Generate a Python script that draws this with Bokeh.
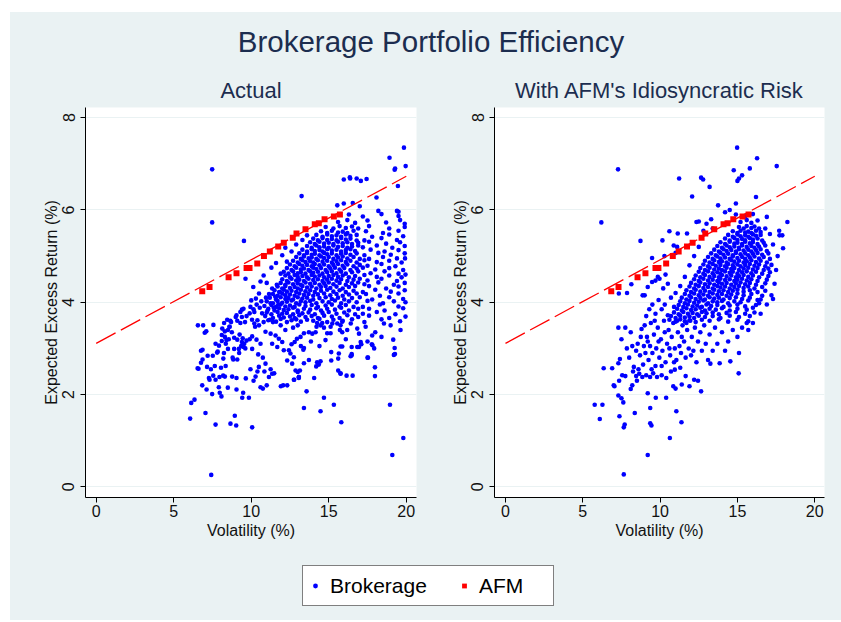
from bokeh.plotting import figure
from bokeh.models import Range1d, FixedTicker, Legend, LegendItem, Spacer
from bokeh.layouts import column, row
from bokeh.embed import file_html
from bokeh.resources import INLINE
from bokeh.core.properties import value

# ---------------- data ----------------
title_text = "Brokerage Portfolio Efficiency"
panel_titles = ["Actual", "With AFM's Idiosyncratic Risk"]
x_label = "Volatility (%)"
y_label = "Expected Excess Return (%)"
x_ticks = [0, 5, 10, 15, 20]
y_ticks = [0, 2, 4, 6, 8]
legend_labels = ["Brokerage", "AFM"]

# AFM portfolios (same in both panels)
afm_vol = [6.84, 7.31, 8.54, 9.05, 9.70, 9.89, 10.39, 10.82, 11.20, 11.74,
           12.10, 12.68, 12.92, 13.50, 14.10, 14.36, 14.73, 15.33, 15.72]
afm_ret = [4.24, 4.33, 4.54, 4.63, 4.74, 4.74, 4.84, 5.00, 5.10, 5.21,
           5.29, 5.40, 5.49, 5.58, 5.69, 5.71, 5.80, 5.86, 5.90]

# efficient frontier line (dashed)
frontier_vol = [0, 20]
frontier_ret = [3.11, 6.73]

# Brokerage accounts, "Actual" panel: (volatility, expected excess return)
actual_outliers = [
    (7.48,6.88),(7.48,5.73),(9.53,5.33),(13.25,6.30),(7.42,0.26),(19.10,0.69),(19.81,1.06),(18.95,1.78),
    (15.33,1.78),(15.81,1.40),(14.47,1.64),(14.69,1.93),(13.40,1.71),(13.57,2.07),(14.06,2.36),(19.85,7.35),
    (18.92,7.13),(19.25,6.87),(19.28,6.90),(19.96,6.95),(15.97,6.66),(16.36,6.71),(16.38,6.68),(16.80,6.68),
    (17.07,6.63),(17.44,6.67),(19.46,6.52),(18.08,6.27),(15.55,6.10),(15.97,6.14),(16.55,6.15),(17.00,6.08),
    (18.20,5.98),(19.40,5.98),(19.50,5.96),(17.98,2.40),(17.98,2.59),(16.15,2.41),(16.54,2.41),(16.41,2.83),
    (17.53,2.80),(15.76,2.46),(19.20,2.86),(19.25,3.01),(19.16,3.19),
]
actual_lower = [
    (6.06,1.48),(7.05,1.60),(7.70,1.35),(8.66,1.37),(9.03,1.33),(8.94,1.54),(10.06,1.29),(6.13,1.82),
    (6.34,1.89),(9.42,1.93),(9.85,1.93),(7.48,2.01),(8.08,1.96),(7.97,2.04),(6.84,2.20),(7.12,2.11),
    (7.91,2.16),(8.49,2.15),(9.05,2.11),(9.48,2.04),(10.60,2.16),(10.75,2.13),(7.31,2.32),(7.27,2.36),
    (7.55,2.41),(7.70,2.32),(7.95,2.38),(8.19,2.41),(8.30,2.39),(8.77,2.39),(9.05,2.36),(10.28,2.39),
    (11.14,2.38),(11.35,2.45),(11.48,2.46),(11.91,2.18),(12.06,2.20),(12.32,2.20),(12.77,2.32),(13.07,2.38),
    (7.15,2.60),(7.40,2.55),(7.65,2.62),(8.05,2.58),(8.35,2.62),(9.65,2.35),(9.95,2.55),(10.15,2.30),
    (10.40,2.50),(10.85,2.50),(11.00,2.20),(11.25,2.55),(12.75,2.32),(13.07,2.36),(13.14,2.52),(13.00,2.49),
    (15.61,2.52),(15.76,2.45),(15.16,2.74),(15.61,2.78),(14.25,2.70),(14.47,2.72),(14.36,2.65),(14.19,2.61),
    (13.40,2.68),(12.53,2.89),(12.75,2.81),(13.36,2.97),(13.40,3.01),(13.72,2.75),(15.16,2.92),(15.65,2.89),
    (15.76,3.04),(15.87,3.04),(16.48,2.85),(17.06,3.14),(17.10,3.09),(16.84,3.03),(16.95,3.03),(17.78,3.09),
    (17.93,3.00),(17.82,3.07),(17.50,2.80),(19.27,2.88),(16.48,3.03),(16.48,2.88),
]
actual_middle = [
    (6.54,2.57),(6.60,2.56),(6.76,2.69),(6.86,2.76),(6.76,2.95),(6.86,2.97),(7.19,2.84),(7.52,2.84),
    (7.00,3.34),(7.10,3.37),(6.56,3.50),(6.90,3.50),(7.56,3.51),(7.70,3.10),(7.92,3.06),(7.80,2.91),
    (7.84,2.93),(8.13,3.43),(8.30,3.37),(8.50,3.40),(8.60,3.47),(8.20,2.78),(8.24,2.90),(8.36,3.10),
    (8.50,2.99),(8.80,2.80),(8.84,2.76),(9.10,2.76),(8.90,2.99),(9.20,2.99),(9.50,3.03),(9.22,2.90),
    (9.05,3.72),(9.40,3.84),(9.10,3.60),(9.30,3.55),(9.40,3.68),(9.70,3.70),(9.60,3.57),(8.90,3.23),
    (9.10,3.19),(9.40,3.14),(9.70,3.17),(9.90,3.20),(10.06,3.26),(10.34,3.19),(10.60,3.10),(10.06,2.99),
    (10.45,2.87),(10.75,2.80),(10.92,2.67),(10.49,2.60),(10.20,3.54),(10.25,3.47),(10.50,3.50),(10.80,3.57),
    (11.10,3.61),(11.40,3.57),(9.90,3.76),(10.20,3.79),(10.40,3.61),(10.70,3.76),(10.92,3.36),(11.25,3.32),
    (11.57,3.28),(11.78,3.21),(11.35,3.10),(11.68,3.03),(12.10,2.96),(12.32,2.74),(12.64,2.67),(12.86,2.52),
    (13.07,2.38),(12.43,2.96),(12.00,3.14),(10.00,4.04),(10.30,4.08),(10.50,4.19),(9.50,3.86),(9.30,3.79),
    (9.00,3.68),(8.70,3.57),(8.60,3.47),(8.10,3.29),(8.30,3.25),(8.40,3.18),(8.10,3.16),(9.35,3.05),
    (9.55,3.10),(9.62,3.00),(9.45,3.22),(9.25,3.30),(9.95,3.90),(10.05,3.62),(10.15,3.85),(10.35,3.95),
    (10.55,3.88),(10.65,4.02),(10.85,3.92),(10.95,4.10),(11.05,3.82),(11.15,4.18),(11.25,3.98),(11.35,4.30),
    (11.45,3.88),(11.55,4.12),(11.65,4.38),(11.75,3.95),(11.85,4.22),(8.25,3.55),(8.45,3.62),(8.65,3.60),
    (8.75,3.35),(8.55,3.20),(12.60,3.09),(12.80,3.14),(12.95,3.21),(13.18,3.25),(13.40,3.33),(13.72,3.35),
    (13.94,3.32),(14.15,3.35),(14.25,3.55),(14.21,3.47),(14.47,3.50),(14.58,3.55),(14.69,3.45),(14.90,3.33),
    (14.79,3.18),(15.12,3.33),(15.12,3.47),(15.23,3.54),(15.55,3.54),(15.76,3.50),(15.87,3.58),(15.72,3.40),
    (15.87,3.35),(16.19,3.40),(16.42,3.54),(16.84,3.43),(16.95,3.32),(17.38,3.47),(17.80,3.28),(18.00,3.35),
    (18.56,3.54),(18.99,3.50),(19.63,3.40),(13.20,3.05),(13.85,3.15),(14.40,3.05),
    (16.10,3.20),(17.50,3.15),(18.40,3.25),(12.20,3.40),(12.70,3.45),(13.00,3.50),(11.90,3.50),
]
actual_core = [
    (11.2,3.62),(11.6,3.58),(11.9,3.64),(12.3,3.57),(12.6,3.61),(12.9,3.63),(13.2,3.58),(13.6,3.62),(14.0,3.60),(14.4,3.64),
    (14.9,3.57),(15.3,3.62),(15.9,3.60),(16.5,3.63),(17.3,3.57),(18.4,3.63),(19.6,3.59),
    (10.9,3.70),(11.4,3.66),(11.8,3.71),(12.1,3.67),(12.5,3.69),(12.8,3.66),(13.1,3.72),(13.5,3.68),(13.9,3.70),(14.3,3.66),
    (14.7,3.71),(15.2,3.69),(15.7,3.66),(16.2,3.72),(16.9,3.68),(17.6,3.71),(18.9,3.66),(19.95,3.69),
    (11.0,3.78),(11.3,3.74),(11.7,3.79),(12.0,3.75),(12.3,3.77),(12.7,3.74),(13.0,3.79),(13.3,3.76),(13.7,3.78),(14.1,3.74),
    (14.6,3.77),(15.0,3.79),(15.5,3.75),(16.0,3.78),(16.7,3.74),(17.2,3.75),(18.1,3.79),(19.3,3.74),
    (11.1,3.86),(11.5,3.82),(11.8,3.87),(12.1,3.83),(12.4,3.85),(12.7,3.88),(13.0,3.82),(13.4,3.86),(13.8,3.84),(14.2,3.87),
    (14.5,3.82),(14.9,3.86),(15.4,3.84),(15.8,3.88),(16.3,3.82),(16.9,3.86),(17.6,3.86),(18.6,3.82),(19.8,3.87),
    (11.3,3.94),(11.6,3.90),(11.9,3.95),(12.2,3.91),(12.5,3.93),(12.8,3.90),(13.1,3.95),(13.5,3.92),(13.9,3.94),(14.3,3.90),
    (14.8,3.93),(15.2,3.95),(15.7,3.91),(16.1,3.94),(16.6,3.90),(17.2,3.90),(18.3,3.95),(19.5,3.91),
    (11.0,4.02),(11.4,3.98),(11.7,4.03),(12.0,3.99),(12.3,4.01),(12.6,4.04),(12.9,3.98),(13.2,4.02),(13.5,4.00),(13.8,4.03),
    (14.2,3.98),(14.6,4.02),(15.0,4.00),(15.4,4.04),(15.8,3.98),(16.3,4.02),(16.8,4.00),(17.5,4.03),(18.5,3.98),(19.2,4.02),
    (19.95,4.00),
    (11.2,4.10),(11.6,4.06),(11.9,4.11),(12.2,4.07),(12.4,4.09),(12.7,4.06),(13.0,4.11),(13.3,4.08),(13.6,4.10),(14.0,4.06),
    (14.4,4.09),(14.8,4.11),(15.2,4.07),(15.6,4.10),(16.0,4.06),(16.5,4.09),(17.0,4.11),(17.8,4.06),(18.9,4.11),(19.8,4.07),
    (11.4,4.18),(11.7,4.14),(12.0,4.19),(12.2,4.15),(12.5,4.17),(12.8,4.14),(13.1,4.19),(13.4,4.16),(13.7,4.18),(14.0,4.14),
    (14.3,4.17),(14.7,4.19),(15.1,4.15),(15.5,4.18),(15.9,4.14),(16.3,4.17),(16.8,4.19),(17.4,4.18),(18.3,4.14),(19.5,4.19),
    (11.5,4.26),(11.8,4.22),(12.1,4.27),(12.3,4.23),(12.6,4.25),(12.9,4.22),(13.2,4.27),(13.5,4.24),(13.8,4.26),(14.1,4.22),
    (14.5,4.25),(14.9,4.27),(15.3,4.23),(15.7,4.26),(16.1,4.22),(16.6,4.25),(17.2,4.22),(18.0,4.27),(19.0,4.23),(19.9,4.26),
    (11.7,4.34),(12.0,4.30),(12.2,4.35),(12.5,4.31),(12.8,4.33),(13.0,4.30),(13.3,4.35),(13.6,4.32),(13.9,4.34),(14.2,4.30),
    (14.5,4.33),(14.8,4.35),(15.1,4.31),(15.5,4.34),(15.9,4.30),(16.3,4.33),(16.7,4.35),(17.6,4.35),(18.7,4.30),(19.5,4.34),
    (11.9,4.42),(12.2,4.38),(12.4,4.43),(12.7,4.39),(13.0,4.41),(13.2,4.38),(13.5,4.43),(13.8,4.40),(14.1,4.42),(14.4,4.38),
    (14.7,4.41),(15.0,4.43),(15.3,4.39),(15.7,4.42),(16.1,4.38),(16.5,4.41),(16.9,4.43),(17.3,4.39),(18.2,4.43),(19.2,4.38),
    (19.9,4.42),
    (12.0,4.50),(12.3,4.46),(12.6,4.51),(12.9,4.47),(13.1,4.49),(13.4,4.46),(13.7,4.51),(14.0,4.48),(14.3,4.50),(14.6,4.46),
    (14.9,4.49),(15.2,4.51),(15.5,4.47),(15.8,4.50),(16.2,4.46),(16.6,4.49),(17.0,4.51),(17.5,4.47),(18.4,4.51),(19.4,4.46),
    (12.2,4.58),(12.5,4.54),(12.8,4.59),(13.0,4.55),(13.3,4.57),(13.6,4.54),(13.9,4.59),(14.1,4.56),(14.4,4.58),(14.7,4.54),
    (15.0,4.57),(15.3,4.59),(15.6,4.55),(15.9,4.58),(16.3,4.54),(16.7,4.57),(17.3,4.59),(18.1,4.55),(18.9,4.58),(19.7,4.54),
    (12.1,4.66),(12.4,4.62),(12.7,4.67),(13.0,4.63),(13.2,4.65),(13.5,4.62),(13.8,4.67),(14.0,4.64),(14.3,4.66),(14.6,4.62),
    (14.9,4.65),(15.2,4.67),(15.5,4.63),(15.8,4.66),(16.1,4.62),(16.5,4.65),(16.9,4.67),(17.7,4.63),(18.6,4.67),(19.5,4.62),
    (12.3,4.74),(12.6,4.70),(12.9,4.75),(13.2,4.71),(13.4,4.73),(13.7,4.70),(14.0,4.75),(14.2,4.72),(14.5,4.74),(14.8,4.70),
    (15.1,4.73),(15.4,4.75),(15.7,4.71),(16.0,4.74),(16.4,4.70),(16.8,4.73),(17.2,4.75),(18.0,4.71),(18.9,4.74),(19.8,4.70),
    (12.5,4.82),(12.8,4.78),(13.1,4.83),(13.3,4.79),(13.6,4.81),(13.9,4.78),(14.1,4.83),(14.4,4.80),(14.7,4.82),(15.0,4.78),
    (15.3,4.81),(15.6,4.83),(15.9,4.79),(16.2,4.82),(16.6,4.78),(17.0,4.81),(17.5,4.79),(18.4,4.83),(19.3,4.78),
    (12.7,4.90),(13.0,4.86),(13.3,4.91),(13.5,4.87),(13.8,4.89),(14.0,4.86),(14.3,4.91),(14.6,4.88),(14.9,4.90),(15.2,4.86),
    (15.5,4.89),(15.8,4.91),(16.1,4.87),(16.4,4.90),(16.8,4.86),(17.3,4.91),(18.1,4.87),(18.9,4.90),(19.7,4.86),
    (12.9,4.98),(13.2,4.94),(13.4,4.99),(13.7,4.95),(13.9,4.97),(14.2,4.94),(14.5,4.99),(14.7,4.96),(15.0,4.98),(15.3,4.94),
    (15.6,4.97),(15.9,4.99),(16.2,4.95),(16.6,4.98),(17.0,4.94),(17.6,4.94),(18.5,4.98),(19.4,4.95),
    (13.1,5.06),(13.4,5.02),(13.6,5.07),(13.9,5.03),(14.1,5.05),(14.4,5.02),(14.7,5.07),(14.9,5.04),(15.2,5.06),(15.5,5.02),
    (15.8,5.05),(16.1,5.07),(16.4,5.03),(16.8,5.06),(17.3,5.02),(18.2,5.07),(19.0,5.03),(19.9,5.06),
    (13.3,5.14),(13.6,5.10),(13.9,5.15),(14.1,5.11),(14.4,5.13),(14.6,5.10),(14.9,5.15),(15.2,5.12),(15.5,5.14),(15.8,5.10),
    (16.1,5.13),(16.4,5.15),(16.7,5.11),(17.7,5.14),(18.6,5.10),(19.5,5.13),
    (13.6,5.22),(13.9,5.18),(14.2,5.23),(14.4,5.19),(14.7,5.21),(15.0,5.18),(15.3,5.23),(15.6,5.20),(15.9,5.22),(16.2,5.18),
    (16.5,5.21),(16.9,5.23),(17.2,5.19),(18.1,5.23),(19.1,5.18),(19.9,5.22),
    (13.8,5.30),(14.1,5.26),(14.4,5.31),(14.7,5.27),(15.0,5.29),(15.3,5.26),(15.6,5.31),(15.9,5.28),(16.2,5.30),(16.5,5.26),
    (16.9,5.29),(17.6,5.31),(18.7,5.27),(19.6,5.30),
    (14.0,5.38),(14.3,5.34),(14.6,5.39),(14.9,5.35),(15.2,5.37),(15.5,5.34),(15.8,5.39),(16.1,5.36),(16.4,5.38),(16.8,5.34),
    (17.3,5.34),(18.4,5.39),(19.4,5.35),
    (14.2,5.46),(14.6,5.42),(14.9,5.47),(15.2,5.43),(15.5,5.45),(15.8,5.42),(16.1,5.47),(16.4,5.44),(16.8,5.46),(17.8,5.42),
    (18.9,5.47),(19.8,5.43),
    (14.5,5.54),(14.9,5.50),(15.2,5.55),(15.6,5.51),(15.9,5.53),(16.2,5.50),(16.6,5.55),(17.4,5.54),(18.5,5.50),(19.5,5.55),
    (14.8,5.63),(15.3,5.60),(15.7,5.65),(16.1,5.61),(16.5,5.64),(16.9,5.60),(17.6,5.65),(18.9,5.60),(19.9,5.63),
    (15.6,5.74),(16.2,5.78),(16.7,5.72),(17.5,5.77),(18.7,5.73),(19.6,5.78),
    (16.3,5.90),(17.2,5.86),(18.4,5.91),(19.5,5.87),
]
actual_upper = [
    (10.13,4.33),(10.80,4.58),(9.63,4.51),(11.30,4.75),(11.60,4.85),(12.00,5.02),(12.20,5.18),(11.00,4.42),
    (11.90,4.62),(12.30,4.88),(12.60,5.10),(12.90,5.25),(13.30,5.35),(13.60,5.45),(10.60,4.45),(19.95,4.60),
    (19.90,5.70),(19.92,4.95),
]

# Brokerage accounts, "With AFM's Idiosyncratic Risk" panel
idio_outliers = [
    (7.28,6.88),(6.20,5.73),(8.73,5.33),(11.23,6.68),(12.65,6.70),(12.78,6.66),(13.20,6.50),(12.07,6.29),
    (14.98,7.35),(16.27,7.12),(17.54,6.95),(14.76,6.86),(15.00,6.63),(15.10,6.68),(15.30,6.75),(15.80,6.90),
    (18.23,5.74),(17.70,5.55),(17.72,5.45),(17.90,5.45),(17.95,5.17),(17.30,4.07),(13.75,6.10),(14.90,6.14),
    (16.20,6.28),
]
idio_lower = [
    (5.77,1.78),(6.27,1.78),(6.10,1.47),(7.37,1.53),(7.65,1.29),(7.71,1.35),(8.36,1.60),(9.36,1.38),
    (9.44,1.33),(9.36,1.71),(9.72,1.93),(10.39,1.93),(11.05,1.64),(11.38,1.40),(10.63,1.06),(9.20,0.69),
    (7.65,0.27),(9.20,2.03),(7.30,1.98),(7.50,1.92),(7.62,1.83),(8.10,2.12),(8.20,2.20),(7.00,2.20),
    (7.05,2.18),(6.90,2.57),(6.35,2.57),(7.35,2.30),(7.55,2.42),(7.75,2.40),(8.45,2.40),(8.50,2.30),
    (8.65,2.45),(8.85,2.38),(9.10,2.42),(9.35,2.38),(9.55,2.46),(9.80,2.38),(10.10,2.42),(10.40,2.36),
    (10.85,2.18),(11.00,2.13),(11.40,2.22),(11.90,2.18),(12.20,2.32),(12.45,2.30),(12.65,2.07),(10.70,2.50),
    (10.95,2.54),(11.30,2.58),(11.65,2.40),
    (7.30,2.68),(7.40,2.77),(7.50,3.20),(7.30,3.45),(7.75,3.45),(7.85,3.00),(8.00,2.80),(8.20,3.05),
    (8.10,3.35),(8.30,2.60),(8.45,2.95),(8.55,3.10),(8.70,2.85),(8.80,3.42),(8.95,3.05),(8.90,2.65),
    (9.05,2.90),(9.15,3.25),(9.25,2.75),(9.35,3.05),(9.40,3.55),(9.50,2.90),(9.60,3.30),(9.70,2.62),
    (9.75,3.00),(9.85,3.45),(9.95,2.80),(10.05,3.20),(10.15,2.95),(10.25,3.60),(10.35,2.70),(10.45,3.10),
    (10.55,3.40),(10.65,2.85),(10.75,3.25),(10.85,3.55),(10.95,3.00),(11.05,2.75),(11.15,3.35),(11.25,3.05),
    (11.35,2.90),(11.45,3.50),(11.55,3.15),(11.65,2.80),(11.75,3.40),(11.85,3.00),(11.95,3.60),(12.05,3.25),
    (12.15,2.95),(12.25,3.45),(12.35,2.70),(12.45,3.15),(12.60,3.35),(12.70,2.95),(12.85,3.50),(12.95,3.10),
    (13.10,2.75),(13.25,2.67),(13.20,3.30),(13.40,2.95),(13.55,3.45),(13.70,3.10),(13.85,2.68),(14.00,3.35),
    (14.20,2.95),(14.54,2.72),(14.40,3.15),(14.70,3.40),(15.08,2.46),(15.10,2.90),(15.00,3.25),(15.30,3.45),
    (15.60,3.55),(8.25,2.50),(8.60,2.55),(8.75,3.25),(9.00,3.50),(9.20,3.15),(9.45,2.55),(9.65,3.60),
    (9.90,3.15),(10.10,2.62),(10.30,3.35),(10.60,3.00),(10.90,2.70),(11.10,3.60),(11.40,3.25),(11.70,3.55),
    (12.00,2.85),
]
idio_upper = [
    (9.10,3.70),(9.30,3.85),(9.50,3.95),(9.70,3.75),(9.90,4.05),(10.10,3.85),(10.30,3.95),(10.50,3.72),
    (10.70,4.10),(9.00,4.15),(8.87,4.15),(9.20,4.33),(9.48,4.44),(9.70,4.47),(9.96,4.51),(10.20,4.30),
    (10.50,4.40),(10.35,4.60),(10.28,5.00),(10.15,5.34),(10.60,5.54),(11.14,5.49),(11.74,5.49),(12.35,5.74),
    (12.50,5.75),(10.88,5.23),(11.10,5.20),(11.00,5.07),(9.48,4.96),(9.76,4.74),(9.91,4.74),(9.05,4.62),
    (9.85,4.55),(7.33,4.19),(7.86,4.20),(8.14,4.39),(14.20,5.95),(14.50,6.00),(13.30,5.80),(13.00,5.70),
    (12.80,5.55),(13.40,5.60),(16.80,5.60),(17.10,5.48),(16.90,5.85),(17.30,5.25),(17.60,5.00),(17.50,4.70),
    (17.40,4.40),(17.20,4.15),(16.90,3.95),(16.50,3.75),(16.00,3.55),(15.70,3.40),(16.30,4.05),(11.60,4.55),
    (11.30,4.35),(11.90,4.80),(12.20,5.00),(12.50,5.20),(11.00,4.20),(10.90,3.90),
]
idio_core = [
    (10.6,3.62),(11.0,3.58),(11.3,3.63),(11.6,3.59),(11.9,3.61),(12.3,3.57),(12.7,3.62),(13.2,3.60),(13.8,3.63),(14.4,3.58),
    (15.0,3.62),(15.7,3.59),
    (10.7,3.70),(11.0,3.66),(11.3,3.71),(11.6,3.67),(11.9,3.69),(12.2,3.66),(12.5,3.71),(12.9,3.68),(13.4,3.70),(13.9,3.66),
    (14.5,3.71),(15.1,3.68),(15.8,3.70),
    (10.9,3.78),(11.2,3.74),(11.5,3.79),(11.8,3.75),(12.1,3.77),(12.4,3.74),(12.7,3.79),(13.0,3.76),(13.4,3.78),(13.8,3.74),
    (14.3,3.77),(14.9,3.79),(15.5,3.75),(16.1,3.78),
    (11.1,3.86),(11.4,3.82),(11.7,3.87),(12.0,3.83),(12.3,3.85),(12.6,3.88),(12.9,3.82),(13.2,3.86),(13.6,3.84),(14.0,3.87),
    (14.5,3.82),(15.0,3.86),(15.6,3.84),(16.0,3.88),
    (11.2,3.94),(11.5,3.90),(11.8,3.95),(12.1,3.91),(12.4,3.93),(12.7,3.90),(13.0,3.95),(13.3,3.92),(13.7,3.94),(14.1,3.90),
    (14.5,3.93),(15.0,3.95),(15.5,3.91),(16.2,3.94),
    (11.3,4.02),(11.6,3.98),(11.9,4.03),(12.2,3.99),(12.5,4.01),(12.8,4.04),(13.1,3.98),(13.4,4.02),(13.7,4.00),(14.0,4.03),
    (14.4,3.98),(14.8,4.02),(15.2,4.00),(15.7,4.04),(16.4,3.98),
    (11.4,4.10),(11.7,4.06),(12.0,4.11),(12.3,4.07),(12.6,4.09),(12.9,4.06),(13.2,4.11),(13.5,4.08),(13.8,4.10),(14.1,4.06),
    (14.5,4.09),(14.9,4.11),(15.3,4.07),(15.8,4.10),(16.5,4.06),
    (11.6,4.18),(11.9,4.14),(12.2,4.19),(12.5,4.15),(12.8,4.17),(13.1,4.14),(13.4,4.19),(13.7,4.16),(14.0,4.18),(14.3,4.14),
    (14.6,4.17),(15.0,4.19),(15.4,4.15),(15.9,4.18),(16.6,4.14),
    (11.7,4.26),(12.0,4.22),(12.3,4.27),(12.6,4.23),(12.9,4.25),(13.2,4.22),(13.5,4.27),(13.8,4.24),(14.1,4.26),(14.4,4.22),
    (14.7,4.25),(15.0,4.27),(15.4,4.23),(15.8,4.26),(16.3,4.22),(16.8,4.25),
    (11.9,4.34),(12.2,4.30),(12.5,4.35),(12.8,4.31),(13.1,4.33),(13.4,4.30),(13.7,4.35),(13.9,4.32),(14.2,4.34),(14.5,4.30),
    (14.8,4.33),(15.1,4.35),(15.4,4.31),(15.7,4.34),(16.1,4.30),(16.6,4.33),
    (12.0,4.42),(12.3,4.38),(12.6,4.43),(12.9,4.39),(13.2,4.41),(13.5,4.38),(13.8,4.43),(14.0,4.40),(14.3,4.42),(14.6,4.38),
    (14.9,4.41),(15.2,4.43),(15.5,4.39),(15.8,4.42),(16.2,4.38),(16.8,4.41),
    (12.2,4.50),(12.5,4.46),(12.8,4.51),(13.1,4.47),(13.4,4.49),(13.7,4.46),(13.9,4.51),(14.2,4.48),(14.5,4.50),(14.8,4.46),
    (15.0,4.49),(15.3,4.51),(15.6,4.47),(15.9,4.50),(16.3,4.46),(16.9,4.49),
    (12.3,4.58),(12.6,4.54),(12.9,4.59),(13.2,4.55),(13.5,4.57),(13.8,4.54),(14.0,4.59),(14.3,4.56),(14.6,4.58),(14.9,4.54),
    (15.1,4.57),(15.4,4.59),(15.7,4.55),(16.0,4.58),(16.4,4.54),(17.0,4.57),
    (12.5,4.66),(12.8,4.62),(13.1,4.67),(13.4,4.63),(13.7,4.65),(13.9,4.62),(14.2,4.67),(14.5,4.64),(14.7,4.66),(15.0,4.62),
    (15.3,4.65),(15.6,4.67),(15.9,4.63),(16.2,4.66),(16.6,4.62),(17.1,4.65),
    (12.6,4.74),(12.9,4.70),(13.2,4.75),(13.5,4.71),(13.8,4.73),(14.0,4.70),(14.3,4.75),(14.6,4.72),(14.8,4.74),(15.1,4.70),
    (15.4,4.73),(15.7,4.75),(16.0,4.71),(16.3,4.74),(16.7,4.70),(17.0,4.73),
    (12.8,4.82),(13.1,4.78),(13.4,4.83),(13.6,4.79),(13.9,4.81),(14.2,4.78),(14.4,4.83),(14.7,4.80),(15.0,4.82),(15.2,4.78),
    (15.5,4.81),(15.8,4.83),(16.1,4.79),(16.4,4.82),(16.8,4.78),(17.2,4.81),
    (12.9,4.90),(13.2,4.86),(13.5,4.91),(13.8,4.87),(14.0,4.89),(14.3,4.86),(14.6,4.91),(14.8,4.88),(15.1,4.90),(15.4,4.86),
    (15.6,4.89),(15.9,4.91),(16.2,4.87),(16.5,4.90),(16.9,4.86),
    (13.1,4.98),(13.4,4.94),(13.7,4.99),(13.9,4.95),(14.2,4.97),(14.5,4.94),(14.7,4.99),(15.0,4.96),(15.3,4.98),(15.5,4.94),
    (15.8,4.97),(16.1,4.99),(16.4,4.95),(16.7,4.98),(17.1,4.94),
    (13.3,5.06),(13.6,5.02),(13.9,5.07),(14.1,5.03),(14.4,5.05),(14.7,5.02),(14.9,5.07),(15.2,5.04),(15.5,5.06),(15.7,5.02),
    (16.0,5.05),(16.3,5.07),(16.6,5.03),(17.0,5.06),
    (13.5,5.14),(13.8,5.10),(14.1,5.15),(14.3,5.11),(14.6,5.13),(14.9,5.10),(15.1,5.15),(15.4,5.12),(15.7,5.14),(15.9,5.10),
    (16.2,5.13),(16.5,5.15),(16.9,5.11),
    (13.7,5.22),(14.0,5.18),(14.3,5.23),(14.5,5.19),(14.8,5.21),(15.1,5.18),(15.3,5.23),(15.6,5.20),(15.9,5.22),(16.1,5.18),
    (16.4,5.21),(16.8,5.23),
    (13.9,5.30),(14.2,5.26),(14.5,5.31),(14.8,5.27),(15.0,5.29),(15.3,5.26),(15.5,5.31),(15.8,5.28),(16.0,5.30),(16.3,5.26),
    (16.7,5.29),
    (14.2,5.38),(14.5,5.34),(14.8,5.39),(15.0,5.35),(15.3,5.37),(15.5,5.34),(15.8,5.39),(16.0,5.36),(16.3,5.38),(16.6,5.34),
    (14.4,5.46),(14.7,5.42),(15.0,5.47),(15.2,5.43),(15.5,5.45),(15.7,5.42),(16.0,5.47),(16.2,5.44),(16.5,5.46),
    (14.7,5.54),(15.0,5.50),(15.2,5.55),(15.5,5.51),(15.7,5.53),(15.9,5.50),(16.2,5.55),(16.5,5.52),
    (15.1,5.63),(15.4,5.60),(15.6,5.65),(15.9,5.61),(16.1,5.64),(16.4,5.60),
    (15.2,5.74),(15.6,5.78),(15.9,5.72),(16.3,5.77),
    (14.9,5.90),(15.5,5.86),(16.0,5.91),
]

# ---------------- style ----------------
BG = "#EAF2F3"
TITLE_C = "#1c2d4f"
TEXT_C = "#111111"
BLUE = "#0000FF"
RED = "#FF0000"
FONT = "Liberation Sans"


def split(*groups):
    pts = [p for g in groups for p in g]
    return [p[0] for p in pts], [p[1] for p in pts]


act_vol, act_ret = split(actual_outliers, actual_lower, actual_middle, actual_core, actual_upper)
idio_vol, idio_ret = split(idio_outliers, idio_lower, idio_upper, idio_core)

LEFT0, TOP0 = 10, 12          # white page strip left/top of the graph
W_IN = 841 - LEFT0            # 831
W1 = 410
HEAD_BOTTOM = 104             # header strip ends here (page px)

# header: main title and panel titles, page coordinates
header = figure(width=W_IN, height=HEAD_BOTTOM - TOP0, x_range=Range1d(LEFT0, 841),
                y_range=Range1d(HEAD_BOTTOM, TOP0),
                output_backend="svg", toolbar_location=None, x_axis_location=None, y_axis_location=None,
                min_border=0, background_fill_color=BG, border_fill_color=BG, outline_line_color=None)
header.grid.visible = False
header.text(x=[430.5], y=[41], text=[title_text], text_align="center", text_baseline="middle",
            text_font=value(FONT), text_font_size="29.5px", text_color=TITLE_C)
header.text(x=[250.5, 659.0], y=[90, 90], text=panel_titles, text_align="center", text_baseline="middle",
            text_font=value(FONT), text_font_size="22px", text_color=TITLE_C)


def make_panel(width, b_left, b_right, xr, xs, ys):
    p = figure(width=width, height=555 - HEAD_BOTTOM, x_range=Range1d(*xr), y_range=Range1d(-0.23, 8.22),
               output_backend="svg", toolbar_location=None,
               min_border_left=b_left, min_border_right=b_right,
               min_border_top=107 - HEAD_BOTTOM, min_border_bottom=58,
               background_fill_color="white", border_fill_color=BG, outline_line_color=None)
    p.xgrid.visible = False
    p.xaxis.ticker = FixedTicker(ticks=x_ticks)
    p.yaxis.ticker = FixedTicker(ticks=y_ticks)
    p.ygrid.grid_line_color = BG
    p.ygrid.grid_line_width = 1
    for ax in (p.xaxis, p.yaxis):
        ax.axis_line_color = "#000000"
        ax.major_tick_line_color = "#000000"
        ax.major_tick_in = 0
        ax.major_tick_out = 5
        ax.minor_tick_line_color = None
        ax.major_label_text_font = FONT
        ax.major_label_text_font_size = "16px"
        ax.major_label_text_color = TEXT_C
        ax.axis_label_text_font = FONT
        ax.axis_label_text_font_size = "16px"
        ax.axis_label_text_font_style = "normal"
        ax.axis_label_text_color = TEXT_C
    p.xaxis.major_label_standoff = 2
    p.xaxis.axis_label_standoff = 2
    p.yaxis.major_label_standoff = 6
    p.yaxis.axis_label_standoff = 0
    p.xaxis.axis_label = x_label
    p.yaxis.axis_label = y_label
    p.yaxis.major_label_orientation = "vertical"
    p.scatter(xs, ys, marker="circle", size=4.6, fill_color=BLUE, line_color=None)
    p.scatter(afm_vol, afm_ret, marker="square", size=6, fill_color=RED, line_color=None)
    p.line(frontier_vol, frontier_ret, line_color=RED, line_width=1.3, line_dash="22 6")
    return p


p1 = make_panel(W1, 85 - LEFT0, 420 - 416, (-0.69, 20.66), act_vol, act_ret)
p2 = make_panel(W_IN - W1, 494 - 420, 841 - 824, (-0.71, 20.63), idio_vol, idio_ret)

# legend strip
leg = figure(width=W_IN, height=65, x_range=Range1d(0, 1), y_range=Range1d(0, 1),
             output_backend="svg", toolbar_location=None, x_axis_location=None, y_axis_location=None,
             min_border=0, background_fill_color=BG, border_fill_color=BG, outline_line_color=None)
leg.grid.visible = False
# legend proxies (outside the visible range)
r_b = leg.scatter(x=[-5], y=[-5], marker="circle", size=4.6, fill_color=BLUE, line_color=None)
r_a = leg.scatter(x=[-5], y=[-5], marker="square", size=6, fill_color=RED, line_color=None)
legend = Legend(items=[LegendItem(label=legend_labels[0], renderers=[r_b]),
                       LegendItem(label=legend_labels[1], renderers=[r_a])],
                orientation="horizontal", location=(302 - LEFT0, 14), margin=0, padding=6,
                glyph_width=12, glyph_height=27, label_height=27, label_width=68,
                label_standoff=9, spacing=31,
                label_text_font=FONT, label_text_font_size="21px", label_text_color="#000000",
                border_line_color="#000000", border_line_width=1,
                background_fill_color="white", background_fill_alpha=1)
leg.add_layout(legend, "center")

inner = column(header, row(p1, p2, styles={"background-color": BG}), leg,
               styles={"background-color": BG})
layout = column(Spacer(height=TOP0), row(Spacer(width=LEFT0), inner))

with open("out.html", "w") as f:
    f.write(file_html(layout, INLINE))
